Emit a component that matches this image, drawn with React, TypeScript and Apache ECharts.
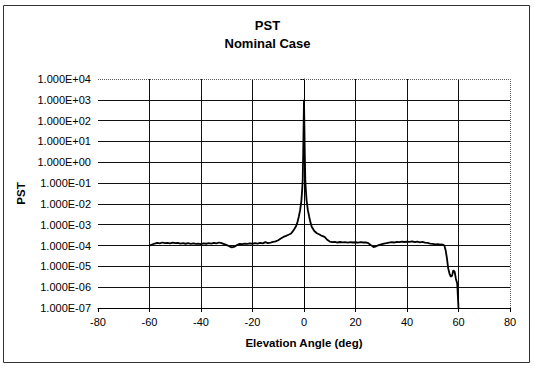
import React, { useEffect, useRef } from "react";
import * as echarts from "echarts";

const titleLines = ["PST", "Nominal Case"];
const xAxisName = "Elevation Angle (deg)";
const yAxisName = "PST";

const elevation = [
  -60, -59, -58, -57, -56, -55, -54, -53, -52, -51, -50, -49, -48, -47, -46, -45, -44, -43, -42, -41,
  -40, -39, -38, -37, -36, -35, -34, -33, -32, -31, -30, -29, -28, -27, -26, -25, -24, -23, -22, -21,
  -20, -19, -18, -17, -16, -15, -14, -13, -12, -11, -10, -9, -8, -7, -6, -5, -4, -3, -2.5, -2, -1.5,
  -1, -0.7, -0.5, -0.3, -0.15, 0, 0.15, 0.3, 0.5, 0.7, 1, 1.5, 2, 2.5, 3, 4, 5, 6, 7, 8, 9, 10, 11,
  12, 13, 14, 15, 16, 17, 18, 19, 20, 21, 22, 23, 24, 25, 26, 27, 28, 29, 30, 31, 32, 33, 34, 35, 36,
  37, 38, 39, 40, 41, 42, 43, 44, 45, 46, 47, 48, 49, 50, 51, 52, 53, 54, 54.5, 55, 55.5, 56, 56.5,
  57, 57.5, 58, 58.5, 59, 59.5, 60,
];

const pst = [
  1.0e-4, 1.12e-4, 1.25e-4, 1.35e-4, 1.28e-4, 1.4e-4, 1.3e-4, 1.33e-4, 1.28e-4, 1.38e-4, 1.3e-4,
  1.35e-4, 1.25e-4, 1.3e-4, 1.22e-4, 1.3e-4, 1.2e-4, 1.28e-4, 1.2e-4, 1.25e-4,
  1.18e-4, 1.27e-4, 1.22e-4, 1.3e-4, 1.25e-4, 1.35e-4, 1.28e-4, 1.4e-4, 1.3e-4, 1.18e-4, 1.05e-4,
  0.92e-4, 0.82e-4, 0.88e-4, 1.05e-4, 1.2e-4, 1.18e-4, 1.25e-4, 1.2e-4, 1.28e-4,
  1.22e-4, 1.3e-4, 1.25e-4, 1.35e-4, 1.28e-4, 1.45e-4, 1.3e-4, 1.38e-4, 1.5e-4, 1.6e-4, 1.8e-4,
  2.2e-4, 2.6e-4, 2.9e-4, 3.3e-4, 3.8e-4, 5.5e-4, 9e-4, 1.4e-3, 2.5e-3, 5e-3,
  1.5e-2, 5e-2, 0.15, 3, 60, 1000, 60, 3, 0.15, 5e-2, 1.5e-2, 5e-3, 2.5e-3, 1.3e-3, 8e-4, 5e-4,
  3.9e-4, 3.4e-4, 2.9e-4, 2.6e-4, 1.9e-4, 1.55e-4, 1.45e-4,
  1.5e-4, 1.4e-4, 1.48e-4, 1.42e-4, 1.45e-4, 1.38e-4, 1.46e-4, 1.4e-4, 1.44e-4, 1.38e-4, 1.45e-4,
  1.4e-4, 1.42e-4, 1.3e-4, 1.05e-4, 0.85e-4, 0.92e-4, 1.05e-4, 1.15e-4, 1.25e-4, 1.3e-4, 1.38e-4,
  1.45e-4, 1.4e-4, 1.5e-4,
  1.45e-4, 1.55e-4, 1.48e-4, 1.55e-4, 1.5e-4, 1.58e-4, 1.45e-4, 1.55e-4, 1.42e-4, 1.5e-4, 1.38e-4,
  1.35e-4, 1.25e-4, 1.2e-4, 1.15e-4, 1.18e-4, 1.12e-4, 1.1e-4, 1.0e-4, 6e-5, 2.5e-5, 8e-6, 4.5e-6,
  3.2e-6, 3.5e-6, 6.5e-6, 5.5e-6, 2.5e-6, 1.5e-6, 1e-7,
];

const FONT = "'Liberation Sans', Arial, sans-serif";

function formatSci(v: number): string {
  const exp = Math.round(Math.log10(v));
  const sign = exp < 0 ? "-" : "+";
  const abs = Math.abs(exp);
  return "1.000E" + sign + (abs < 10 ? "0" + abs : String(abs));
}

export default function App() {
  const ref = useRef<HTMLDivElement>(null);
  useEffect(() => {
    if (!ref.current) return;
    const chart = echarts.init(ref.current, null, { renderer: "svg" });
    const data = elevation.map((x, i) => [x, pst[i]]);
    chart.setOption({
      animation: false,
      backgroundColor: "#fff",
      title: {
        text: titleLines.join("\n"),
        left: "center",
        top: 16,
        padding: 0,
        textStyle: { fontFamily: FONT, fontSize: 13, fontWeight: "bold", color: "#000", lineHeight: 18 },
      },
      graphic: [
        {
          type: "rect",
          shape: { x: 3.5, y: 5.5, width: 526, height: 357 },
          style: { fill: "none", stroke: "#333", lineWidth: 1 },
          silent: true,
        },
        {
          type: "polyline",
          shape: { points: [[98, 79.5], [510.5, 79.5], [510.5, 308]] },
          style: { fill: "none", stroke: "#555", lineWidth: 1, lineDash: [1, 1] },
          silent: true,
          z: 10,
        },
      ],
      grid: { left: 98, right: 25, top: 79, bottom: 60, containLabel: false },
      xAxis: {
        type: "value",
        min: -80,
        max: 80,
        interval: 20,
        name: xAxisName,
        nameLocation: "middle",
        nameGap: 29,
        nameTextStyle: { fontFamily: FONT, fontSize: 11.5, fontWeight: "bold", color: "#000" },
        axisLine: { lineStyle: { color: "#000", width: 1 } },
        axisTick: { show: true, length: 4, lineStyle: { color: "#000" } },
        axisLabel: { fontFamily: FONT, fontSize: 11, color: "#000", margin: 8 },
        splitLine: { show: true, showMinLine: false, showMaxLine: false, lineStyle: { color: "#111", width: 1 } },
      },
      yAxis: {
        type: "log",
        logBase: 10,
        min: 1e-7,
        max: 1e4,
        interval: 1,
        name: yAxisName,
        nameLocation: "middle",
        nameGap: 70,
        nameTextStyle: { fontFamily: FONT, fontSize: 11.5, fontWeight: "bold", color: "#000" },
        axisLine: { show: true, lineStyle: { color: "#000", width: 1 } },
        axisTick: { show: true, length: 4, lineStyle: { color: "#000" } },
        axisLabel: { fontFamily: FONT, fontSize: 11, color: "#000", margin: 7, formatter: (v: number) => formatSci(v) },
        splitLine: { show: true, showMinLine: false, showMaxLine: false, lineStyle: { color: "#111", width: 1 } },
        minorTick: { show: false },
      },
      series: [
        {
          type: "line",
          data,
          showSymbol: false,
          symbol: "none",
          lineStyle: { color: "#000", width: 1.8 },
          z: 5,
        },
      ],
    });
    return () => chart.dispose();
  }, []);
  return <div ref={ref} style={{ position: "fixed", left: 0, top: 0, width: 535, height: 368 }} />;
}
